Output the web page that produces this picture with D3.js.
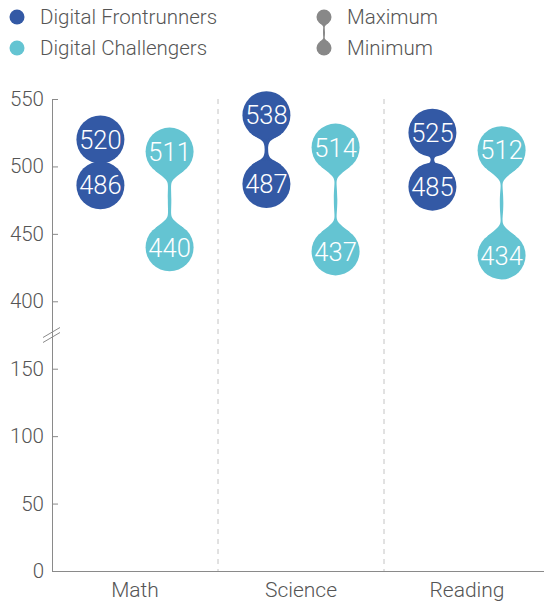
<!DOCTYPE html>
<html><head><meta charset="utf-8">
<script src="https://cdn.jsdelivr.net/npm/d3@7"></script>
<style>
html,body{margin:0;padding:0;background:#fff;}
text{font-family:Roboto,"Liberation Sans",Arial,sans-serif;font-weight:300;}
</style></head>
<body><svg id="chart" width="544" height="605"></svg>
<script>
const categories = ["Math", "Science", "Reading"];
const seriesNames = ["Digital Frontrunners", "Digital Challengers"];
const frontrunnerMax = [520, 538, 525];
const frontrunnerMin = [486, 487, 485];
const challengerMax = [511, 514, 512];
const challengerMin = [440, 437, 434];
const yTickValues = [0, 50, 100, 150, 400, 450, 500, 550];
const seriesColors = ["#3359a5", "#64c4d2"];

(function () {
const svg = d3.select("#chart");
const W = 544;
const plotLeft = 52, plotBottom = 571, plotTop = 99;
const FONT = "Roboto, 'Liberation Sans', sans-serif";

// broken axis: 150..400 collapsed into one 50-unit step
const step = (plotBottom - plotTop) / 7;
const y = d3.scaleLinear()
  .domain([0, 150, 400, 550])
  .range([plotBottom, plotBottom - 3 * step, plotBottom - 4 * step, plotTop]);

const x = d3.scaleBand().domain(categories).range([plotLeft, plotLeft + 3 * 166]).padding(0);
const xs = d3.scalePoint().domain(seriesNames).range([0, x.bandwidth()]).padding(0.7);

// separators
svg.append("g").selectAll("line").data(categories.slice(1)).join("line")
  .attr("x1", d => x(d)).attr("x2", d => x(d))
  .attr("y1", plotTop).attr("y2", plotBottom)
  .attr("stroke", "#c4c4c4").attr("stroke-width", 1).attr("stroke-dasharray", "5,5");

// y axis
const yAxis = d3.axisLeft(y).tickValues(yTickValues).tickSizeInner(-6).tickSizeOuter(0).tickPadding(8);
const gy = svg.append("g").attr("transform", `translate(${plotLeft},0)`).call(yAxis);
gy.select(".domain").attr("stroke", "#8a8a8a");
gy.selectAll(".tick line").attr("stroke", "#8a8a8a");
gy.selectAll(".tick text").attr("fill", "#555").style("font-size", "20.5px").style("font-family", FONT).style("font-weight", 300);

// break marks
const breakY = (y(150) + y(400)) / 2;
[-2.5, 2.5].forEach(o => {
  svg.append("line")
    .attr("x1", plotLeft - 9).attr("y1", breakY + o + 5)
    .attr("x2", plotLeft + 8).attr("y2", breakY + o - 5)
    .attr("stroke", "#8a8a8a").attr("stroke-width", 1);
});

// x axis
const xAxis = d3.axisBottom(x).tickSize(0).tickPadding(11);
const gx = svg.append("g").attr("transform", `translate(0,${plotBottom})`).call(xAxis);
gx.select(".domain").attr("stroke", "#8a8a8a").attr("d", `M${plotLeft},0.5H${W}`);
gx.selectAll(".tick text").attr("fill", "#555").style("font-size", "21px").style("font-family", FONT).style("font-weight", 300);

// neck path between two circles
function neckPath(cx, y1, y2, r, wm) {
  const th = 38 * Math.PI / 180;
  const s = Math.sin(th), c = Math.cos(th);
  const ax = r * s, ayT = y1 + r * c, ayB = y2 - r * c;
  const ym = (ayT + ayB) / 2;
  const k = Math.max(4, (ayB - ayT) * 0.35);
  const h = wm / 2;
  return `M${cx - ax},${ayT}` +
    `C${cx - ax + k * c},${ayT + k * s} ${cx - h},${ym - k} ${cx - h},${ym}` +
    `C${cx - h},${ym + k} ${cx - ax + k * c},${ayB - k * s} ${cx - ax},${ayB}` +
    `L${cx + ax},${ayB}` +
    `C${cx + ax - k * c},${ayB - k * s} ${cx + h},${ym + k} ${cx + h},${ym}` +
    `C${cx + h},${ym - k} ${cx + ax - k * c},${ayT + k * s} ${cx + ax},${ayT}Z`;
}

const R = 24;
const rows = [];
categories.forEach((cat, i) => {
  rows.push({cat, s: seriesNames[0], max: frontrunnerMax[i], min: frontrunnerMin[i], color: seriesColors[0]});
  rows.push({cat, s: seriesNames[1], max: challengerMax[i], min: challengerMin[i], color: seriesColors[1]});
});

const g = svg.append("g").selectAll("g").data(rows).join("g");
g.append("path")
  .attr("d", d => neckPath(x(d.cat) + xs(d.s), y(d.max), y(d.min), R, 3.5))
  .attr("fill", d => d.color);
["max", "min"].forEach(k => {
  g.append("circle")
    .attr("cx", d => x(d.cat) + xs(d.s)).attr("cy", d => y(d[k])).attr("r", R)
    .attr("fill", d => d.color);
  g.append("text")
    .attr("x", d => x(d.cat) + xs(d.s)).attr("y", d => y(d[k]))
    .attr("dy", "0.36em").attr("text-anchor", "middle")
    .attr("fill", "#fff").style("font-size", "25.5px")
    .text(d => d[k]);
});

// legend
const lg = svg.append("g");
seriesNames.forEach((n, i) => {
  lg.append("circle").attr("cx", 17).attr("cy", 17 + i * 31).attr("r", 7.5).attr("fill", seriesColors[i]);
  lg.append("text").attr("x", 40).attr("y", 17 + i * 31).attr("dy", "0.35em")
    .attr("fill", "#555").style("font-size", "20.5px").text(n);
});
lg.append("path").attr("d", neckPath(324, 17, 48, 7.5, 2)).attr("fill", "#888");
[["Maximum", 17], ["Minimum", 48]].forEach(([t, yy]) => {
  lg.append("circle").attr("cx", 324).attr("cy", yy).attr("r", 7.5).attr("fill", "#888");
  lg.append("text").attr("x", 347).attr("y", yy).attr("dy", "0.35em")
    .attr("fill", "#555").style("font-size", "20.5px").text(t);
});
})();
</script></body></html>
